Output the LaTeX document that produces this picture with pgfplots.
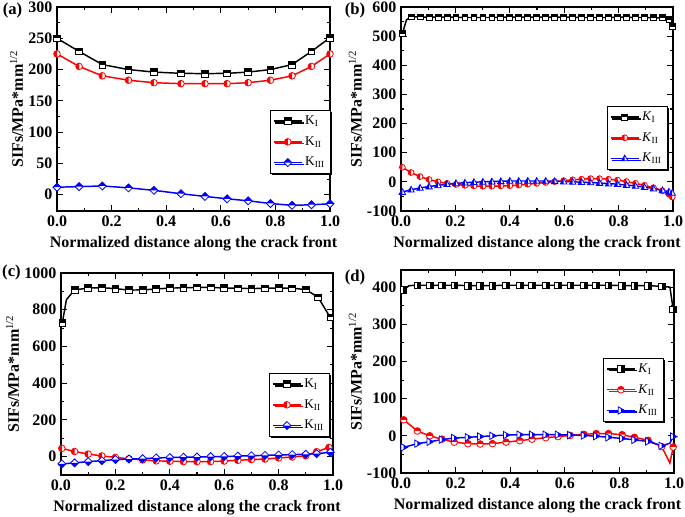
\documentclass[border=0pt]{standalone}
\usepackage{fontspec}
\setmainfont{Liberation Serif}
\usepackage{pgfplots}
\pgfplotsset{compat=1.18}
\usetikzlibrary{shadows}

% half filled marks (filled part uses the plot colour)
\pgfdeclareplotmark{sqT}{%
  \begin{pgfscope}\pgfsetfillcolor{white}%
  \pgfpathrectangle{\pgfqpoint{-\pgfplotmarksize}{-\pgfplotmarksize}}{\pgfqpoint{2\pgfplotmarksize}{2\pgfplotmarksize}}\pgfusepathqfill\end{pgfscope}%
  \pgfpathrectangle{\pgfqpoint{-\pgfplotmarksize}{0pt}}{\pgfqpoint{2\pgfplotmarksize}{\pgfplotmarksize}}\pgfusepathqfill
  \pgfpathrectangle{\pgfqpoint{-\pgfplotmarksize}{-\pgfplotmarksize}}{\pgfqpoint{2\pgfplotmarksize}{2\pgfplotmarksize}}\pgfusepathqstroke}
\pgfdeclareplotmark{sqR}{%
  \begin{pgfscope}\pgfsetfillcolor{white}%
  \pgfpathrectangle{\pgfqpoint{-\pgfplotmarksize}{-\pgfplotmarksize}}{\pgfqpoint{2\pgfplotmarksize}{2\pgfplotmarksize}}\pgfusepathqfill\end{pgfscope}%
  \pgfpathrectangle{\pgfqpoint{0pt}{-\pgfplotmarksize}}{\pgfqpoint{\pgfplotmarksize}{2\pgfplotmarksize}}\pgfusepathqfill
  \pgfpathrectangle{\pgfqpoint{-\pgfplotmarksize}{-\pgfplotmarksize}}{\pgfqpoint{2\pgfplotmarksize}{2\pgfplotmarksize}}\pgfusepathqstroke}
\pgfdeclareplotmark{cL}{%
  \begin{pgfscope}\pgfsetfillcolor{white}%
  \pgfpathcircle{\pgfpointorigin}{\pgfplotmarksize}\pgfusepathqfill\end{pgfscope}%
  \pgfpathmoveto{\pgfqpoint{0pt}{\pgfplotmarksize}}\pgfpatharc{90}{270}{\pgfplotmarksize}\pgfpathclose\pgfusepathqfill
  \pgfpathcircle{\pgfpointorigin}{\pgfplotmarksize}\pgfusepathqstroke}
\pgfdeclareplotmark{cT}{%
  \begin{pgfscope}\pgfsetfillcolor{white}%
  \pgfpathcircle{\pgfpointorigin}{\pgfplotmarksize}\pgfusepathqfill\end{pgfscope}%
  \pgfpathmoveto{\pgfqpoint{\pgfplotmarksize}{0pt}}\pgfpatharc{0}{180}{\pgfplotmarksize}\pgfpathclose\pgfusepathqfill
  \pgfpathcircle{\pgfpointorigin}{\pgfplotmarksize}\pgfusepathqstroke}
\pgfdeclareplotmark{dT}{%
  \begin{pgfscope}\pgfsetfillcolor{white}%
  \pgfpathmoveto{\pgfqpoint{0pt}{1.2\pgfplotmarksize}}\pgfpathlineto{\pgfqpoint{1.2\pgfplotmarksize}{0pt}}\pgfpathlineto{\pgfqpoint{0pt}{-1.2\pgfplotmarksize}}\pgfpathlineto{\pgfqpoint{-1.2\pgfplotmarksize}{0pt}}\pgfpathclose\pgfusepathqfill\end{pgfscope}%
  \pgfpathmoveto{\pgfqpoint{0pt}{1.2\pgfplotmarksize}}\pgfpathlineto{\pgfqpoint{1.2\pgfplotmarksize}{0pt}}\pgfpathlineto{\pgfqpoint{-1.2\pgfplotmarksize}{0pt}}\pgfpathclose\pgfusepathqfill
  \pgfpathmoveto{\pgfqpoint{0pt}{1.2\pgfplotmarksize}}\pgfpathlineto{\pgfqpoint{1.2\pgfplotmarksize}{0pt}}\pgfpathlineto{\pgfqpoint{0pt}{-1.2\pgfplotmarksize}}\pgfpathlineto{\pgfqpoint{-1.2\pgfplotmarksize}{0pt}}\pgfpathclose\pgfusepathqstroke}
\pgfdeclareplotmark{dB}{%
  \begin{pgfscope}\pgfsetfillcolor{white}%
  \pgfpathmoveto{\pgfqpoint{0pt}{1.2\pgfplotmarksize}}\pgfpathlineto{\pgfqpoint{1.2\pgfplotmarksize}{0pt}}\pgfpathlineto{\pgfqpoint{0pt}{-1.2\pgfplotmarksize}}\pgfpathlineto{\pgfqpoint{-1.2\pgfplotmarksize}{0pt}}\pgfpathclose\pgfusepathqfill\end{pgfscope}%
  \pgfpathmoveto{\pgfqpoint{0pt}{-1.2\pgfplotmarksize}}\pgfpathlineto{\pgfqpoint{1.2\pgfplotmarksize}{0pt}}\pgfpathlineto{\pgfqpoint{-1.2\pgfplotmarksize}{0pt}}\pgfpathclose\pgfusepathqfill
  \pgfpathmoveto{\pgfqpoint{0pt}{1.2\pgfplotmarksize}}\pgfpathlineto{\pgfqpoint{1.2\pgfplotmarksize}{0pt}}\pgfpathlineto{\pgfqpoint{0pt}{-1.2\pgfplotmarksize}}\pgfpathlineto{\pgfqpoint{-1.2\pgfplotmarksize}{0pt}}\pgfpathclose\pgfusepathqstroke}
\pgfdeclareplotmark{tL}{%
  \begin{pgfscope}\pgfsetfillcolor{white}%
  \pgfpathmoveto{\pgfqpoint{0pt}{1.15\pgfplotmarksize}}\pgfpathlineto{\pgfqpoint{1.1\pgfplotmarksize}{-0.8\pgfplotmarksize}}\pgfpathlineto{\pgfqpoint{-1.1\pgfplotmarksize}{-0.8\pgfplotmarksize}}\pgfpathclose\pgfusepathqfill\end{pgfscope}%
  \pgfpathmoveto{\pgfqpoint{0pt}{1.15\pgfplotmarksize}}\pgfpathlineto{\pgfqpoint{0pt}{-0.8\pgfplotmarksize}}\pgfpathlineto{\pgfqpoint{-1.1\pgfplotmarksize}{-0.8\pgfplotmarksize}}\pgfpathclose\pgfusepathqfill
  \pgfpathmoveto{\pgfqpoint{0pt}{1.15\pgfplotmarksize}}\pgfpathlineto{\pgfqpoint{1.1\pgfplotmarksize}{-0.8\pgfplotmarksize}}\pgfpathlineto{\pgfqpoint{-1.1\pgfplotmarksize}{-0.8\pgfplotmarksize}}\pgfpathclose\pgfusepathqstroke}
\pgfdeclareplotmark{tR}{%
  \begin{pgfscope}\pgfsetfillcolor{white}%
  \pgfpathmoveto{\pgfqpoint{1.15\pgfplotmarksize}{0pt}}\pgfpathlineto{\pgfqpoint{-0.8\pgfplotmarksize}{1.1\pgfplotmarksize}}\pgfpathlineto{\pgfqpoint{-0.8\pgfplotmarksize}{-1.1\pgfplotmarksize}}\pgfpathclose\pgfusepathqfill\end{pgfscope}%
  \pgfpathmoveto{\pgfqpoint{1.15\pgfplotmarksize}{0pt}}\pgfpathlineto{\pgfqpoint{0pt}{0.65\pgfplotmarksize}}\pgfpathlineto{\pgfqpoint{0pt}{-0.65\pgfplotmarksize}}\pgfpathclose\pgfusepathqfill
  \pgfpathmoveto{\pgfqpoint{1.15\pgfplotmarksize}{0pt}}\pgfpathlineto{\pgfqpoint{-0.8\pgfplotmarksize}{1.1\pgfplotmarksize}}\pgfpathlineto{\pgfqpoint{-0.8\pgfplotmarksize}{-1.1\pgfplotmarksize}}\pgfpathclose\pgfusepathqstroke}

\pgfplotsset{
  sif/.style={
    scale only axis,
    xmin=0, xmax=1,
    xtick={0,0.2,0.4,0.6,0.8,1},
    xticklabel style={/pgf/number format/fixed,/pgf/number format/fixed zerofill,/pgf/number format/precision=1},
    yticklabel style={/pgf/number format/1000 sep={}},
    /pgf/number format/assume math mode=true,
    minor tick num=1,
    tick align=inside,
    major tick length=4.5pt, minor tick length=2.5pt,
    every tick/.style={black, line width=0.8pt},
    axis line style={line width=1pt},
    tick label style={font=\bfseries\fontsize{12}{13}\selectfont},
    label style={font=\bfseries\fontsize{12}{13}\selectfont},
    xlabel={Normalized distance along the crack front},
    ylabel={SIFs/MPa*mm\textsuperscript{\mdseries 1/2}},
    ylabel style={yshift=-3pt},
    legend cell align=left,
    legend style={draw=black, line width=0.6pt, fill=white, anchor=north west,
      font=\mdseries\fontsize{10}{11}\selectfont, row sep=3.5pt, inner sep=2pt,
      drop shadow={fill=black, opacity=1, shadow xshift=1.3pt, shadow yshift=-1.3pt}},
    legend image code/.code={\draw[mark=none, line width=1.1pt] (0cm,0cm) -- (0.74cm,0cm); \draw plot coordinates {(0.37cm,0cm)};},
    every axis plot/.append style={line width=1.1pt, mark size=2.5pt, mark options={line width=0.6pt, solid}},
  }
}

\begin{document}
\begin{tikzpicture}
\useasboundingbox (0,0) rectangle (513.75pt,-387.75pt);

% (a)
\begin{axis}[sif, at={(42.75pt,-158.25pt)}, anchor=south west, width=204.75pt, height=153pt,
  ymin=-26, ymax=300, ytick={0,50,100,150,200,250,300},
  legend style={at={(0.78,0.495)}}]
\addplot[black, mark=sqT] coordinates {(0,250) (0.081,229) (0.166,208) (0.262,200) (0.355,196) (0.454,194) (0.542,193.5) (0.623,194) (0.700,196) (0.782,200) (0.861,208) (0.932,229) (1.0,251)};
\addplot[red, mark=cL] coordinates {(0,225) (0.081,205) (0.166,190) (0.262,183) (0.355,179) (0.454,177.5) (0.542,177.5) (0.623,177.5) (0.700,179) (0.782,183) (0.861,190) (0.932,205) (1.0,225)};
\addplot[blue, mark=dT] coordinates {(0,12) (0.081,13) (0.166,14) (0.262,11) (0.355,7) (0.454,1.6) (0.542,-2.7) (0.623,-6.5) (0.700,-9.7) (0.782,-14) (0.861,-17) (0.932,-16) (1.0,-14.5)};
\legend{K\textsubscript{I},K\textsubscript{II},K\textsubscript{III}}
\end{axis}

% (b)
\begin{axis}[sif, at={(300.75pt,-158.25pt)}, anchor=south west, width=204pt, height=153pt,
  ymin=-100, ymax=600, ytick={-100,0,100,200,300,400,500,600},
  legend style={at={(0.757,0.515)}},
  every axis plot/.append style={mark size=2.2pt}]
\addplot[black, mark=sqT, mark indices={1,3,4,...,33}] coordinates {(0.005,508) (0.02,556) (0.037,566) (0.07,566) (0.103,565) (0.136,565) (0.169,565) (0.202,565) (0.235,564) (0.268,564) (0.301,564) (0.334,564) (0.367,565) (0.4,565) (0.433,565) (0.466,565) (0.499,565) (0.532,565) (0.565,565) (0.598,565) (0.631,565) (0.664,564) (0.697,564) (0.73,564) (0.763,564) (0.796,565) (0.829,565) (0.862,564) (0.895,564) (0.928,563) (0.961,563) (0.985,556) (0.997,532)};
\addplot[red, mark=cL] coordinates {(0.005,50) (0.037,32) (0.07,18) (0.103,8) (0.136,0) (0.169,-5) (0.202,-9) (0.235,-12) (0.268,-14) (0.301,-15) (0.334,-15) (0.367,-14) (0.4,-13) (0.433,-11) (0.466,-8) (0.499,-5) (0.532,-2) (0.565,1) (0.598,4) (0.631,7) (0.664,9) (0.697,11) (0.73,11) (0.763,9) (0.796,6) (0.829,1) (0.862,-5) (0.895,-12) (0.928,-20) (0.961,-31) (0.985,-42) (0.997,-52)};
\addplot[blue, mark=tL] coordinates {(0.005,-35) (0.037,-27) (0.07,-21) (0.103,-16) (0.136,-12) (0.169,-8) (0.202,-5) (0.235,-3) (0.268,-1) (0.301,0) (0.334,1) (0.367,2) (0.4,3) (0.433,3) (0.466,3) (0.499,3) (0.532,3) (0.565,2) (0.598,1) (0.631,0) (0.664,-1) (0.697,-2) (0.73,-4) (0.763,-6) (0.796,-8) (0.829,-11) (0.862,-14) (0.895,-18) (0.928,-23) (0.961,-29) (0.985,-34) (0.997,-38)};
\legend{\textit{K}\textsubscript{I},\textit{K}\textsubscript{II},\textit{K}\textsubscript{III}}
\end{axis}

% (c)
\begin{axis}[sif, at={(45.75pt,-356.25pt)}, anchor=south west, width=204pt, height=151.5pt,
  ymin=-100, ymax=1000, ytick={0,200,400,600,800,1000},
  legend style={at={(0.765,0.505)}}]
\addplot[black, mark=sqT, mark indices={1,3,4,...,22}] coordinates {(0.005,730) (0.02,855) (0.05,908) (0.1,918) (0.15,920) (0.2,915) (0.25,907) (0.3,908) (0.35,913) (0.4,918) (0.45,919) (0.5,922) (0.55,922) (0.6,918) (0.65,917) (0.7,915) (0.75,917) (0.8,918) (0.85,917) (0.9,910) (0.945,868) (0.99,758)};
\addplot[red, mark=cL] coordinates {(0.003,45) (0.05,28) (0.1,14) (0.15,4) (0.2,-4) (0.25,-12) (0.3,-18) (0.35,-23) (0.4,-25) (0.45,-27) (0.5,-27) (0.55,-27) (0.6,-24) (0.65,-20) (0.7,-16) (0.75,-13) (0.8,-7) (0.85,-2) (0.9,5) (0.94,27) (0.985,50)};
\addplot[blue, mark=dB] coordinates {(0.003,-40) (0.05,-34) (0.1,-27) (0.15,-22) (0.2,-16) (0.25,-13) (0.3,-11) (0.35,-7) (0.4,-5) (0.45,-3) (0.5,-2) (0.55,0) (0.6,1) (0.65,3) (0.7,5) (0.75,7) (0.8,9) (0.85,11) (0.9,13) (0.94,16) (0.99,24)};
\legend{K\textsubscript{I},K\textsubscript{II},K\textsubscript{III}}
\end{axis}

% (d)
\begin{axis}[sif, at={(300.75pt,-354.75pt)}, anchor=south west, width=204.75pt, height=152.25pt,
  ymin=-100, ymax=446, ytick={-100,0,100,200,300,400},
  legend style={at={(0.74,0.567)}}]
\addplot[black, mark=sqR, mark indices={1,3,4,...,22,24}] coordinates {(0.009,392) (0.03,404) (0.06,405) (0.105,405) (0.15,405) (0.195,405) (0.245,404) (0.29,404) (0.335,404) (0.385,405) (0.435,405) (0.48,405) (0.53,405) (0.575,405) (0.62,405) (0.67,405) (0.715,405) (0.76,405) (0.81,404) (0.855,404) (0.905,404) (0.955,402) (0.985,400) (0.997,340)};
\addplot[red, mark=cT, mark indices={1,2,...,21,23}] coordinates {(0.01,43) (0.06,13) (0.105,0) (0.15,-9) (0.195,-17) (0.245,-21) (0.29,-22) (0.335,-21) (0.385,-17) (0.435,-13) (0.48,-9) (0.53,-5) (0.575,-2) (0.62,1) (0.67,4) (0.715,6) (0.76,6) (0.81,3) (0.855,-4) (0.905,-12) (0.955,-29) (0.985,-73) (0.997,-30)};
\addplot[blue, mark=tR, mark indices={1,2,...,21,23}] coordinates {(0.01,-31) (0.06,-21) (0.105,-16) (0.15,-10) (0.195,-6) (0.245,-4) (0.29,-2) (0.335,0) (0.385,2) (0.435,3) (0.48,3) (0.53,3) (0.575,3) (0.62,2) (0.67,1) (0.715,-1) (0.76,-4) (0.81,-7) (0.855,-11) (0.905,-15) (0.955,-27) (0.985,-20) (0.997,-2)};
\legend{\textit{K}\textsubscript{I},\textit{K}\textsubscript{II},\textit{K}\textsubscript{III}}
\end{axis}

\node[font=\bfseries\fontsize{12.5}{14}\selectfont] at (9.4pt,-7.5pt) {(a)};
\node[font=\bfseries\fontsize{12.5}{14}\selectfont] at (266.25pt,-7.5pt) {(b)};
\node[font=\bfseries\fontsize{12.5}{14}\selectfont] at (8.6pt,-204.4pt) {(c)};
\node[font=\bfseries\fontsize{12.5}{14}\selectfont] at (266.25pt,-208pt) {(d)};
\end{tikzpicture}
\end{document}
